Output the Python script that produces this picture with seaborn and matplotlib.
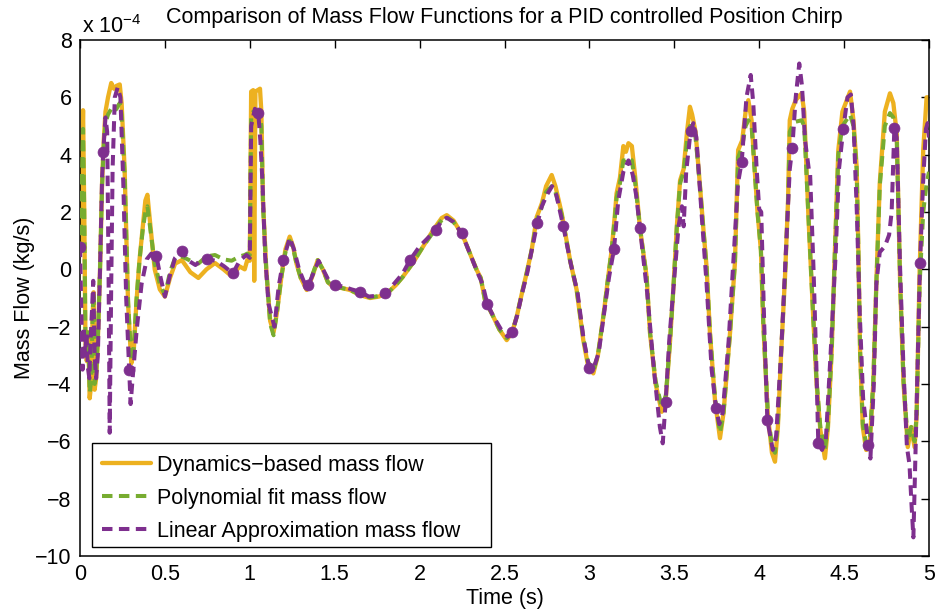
import numpy as np
import pandas as pd
import seaborn as sns
import matplotlib
matplotlib.use("Agg")
import matplotlib.pyplot as plt
from matplotlib.lines import Line2D
from matplotlib.patches import Rectangle

# ---------------- data (mass flow in units of 1e-4 kg/s) ----------------
dyn_t = [0.000, 0.010, 0.018, 0.025, 0.032, 0.040, 0.048, 0.057, 0.066, 0.075,
         0.080, 0.086, 0.095, 0.105, 0.118, 0.130, 0.140, 0.150, 0.165, 0.184,
         0.200, 0.215, 0.234, 0.245, 0.263, 0.283, 0.302, 0.315, 0.332, 0.350,
         0.370, 0.385, 0.397, 0.410, 0.440, 0.470, 0.500, 0.530, 0.560, 0.600,
         0.650, 0.697, 0.745, 0.795, 0.845, 0.893, 0.940, 0.970, 0.985, 1.000,
         1.008, 1.020, 1.026, 1.033, 1.060, 1.068, 1.078, 1.097, 1.120, 1.140,
         1.160, 1.186, 1.210, 1.235, 1.255, 1.275, 1.300, 1.335, 1.365, 1.400,
         1.430, 1.460, 1.490, 1.540, 1.590, 1.650, 1.708, 1.760, 1.810, 1.860,
         1.900, 1.960, 2.020, 2.080, 2.130, 2.160, 2.200, 2.257, 2.300, 2.336,
         2.360, 2.385, 2.434, 2.470, 2.513, 2.545, 2.572, 2.600, 2.630, 2.660,
         2.690, 2.720, 2.745, 2.778, 2.800, 2.837, 2.886, 2.925, 2.964, 2.990,
         3.023, 3.050, 3.082, 3.110, 3.131, 3.150, 3.160, 3.180, 3.200, 3.215,
         3.230, 3.250, 3.270, 3.298, 3.337, 3.357, 3.390, 3.426, 3.450, 3.475,
         3.494, 3.515, 3.534, 3.555, 3.575, 3.592, 3.605, 3.625, 3.650, 3.670,
         3.690, 3.710, 3.740, 3.769, 3.790, 3.828, 3.857, 3.876, 3.900, 3.920,
         3.936, 3.955, 3.970, 3.990, 4.010, 4.024, 4.050, 4.075, 4.093, 4.110,
         4.130, 4.152, 4.170, 4.180, 4.195, 4.215, 4.250, 4.265, 4.290, 4.318,
         4.338, 4.360, 4.387, 4.405, 4.427, 4.446, 4.466, 4.490, 4.535, 4.555,
         4.574, 4.584, 4.594, 4.610, 4.630, 4.650, 4.672, 4.690, 4.710, 4.740,
         4.770, 4.790, 4.810, 4.830, 4.850, 4.875, 4.895, 4.915, 4.927, 4.945,
         4.966, 4.986, 5.000]

dyn_y = [0.60, 3.20, 5.55, 2.00, -2.50, -3.20, -2.20, -4.50, -4.00, -1.50,
         -0.80, -4.20, -3.80, -2.50, 0.00, 3.00, 4.50, 5.50, 6.00, 6.50,
         6.30, 6.40, 6.45, 5.80, 3.46, -1.19, -3.28, -3.00, -1.19, 0.30,
         1.50, 2.40, 2.60, 1.80, 0.00, -0.70, -0.95, -0.30, 0.20, 0.32,
         -0.10, -0.30, 0.00, 0.22, 0.00, -0.24, 0.10, 0.00, 0.32, 0.30,
         6.20, 6.25, -0.40, 6.20, 6.30, 5.50, 2.30, 0.00, -1.80, -2.20,
         -1.50, -0.26, 0.70, 1.14, 0.80, 0.20, -0.30, -0.72, -0.30, 0.32,
         0.00, -0.45, -0.60, -0.65, -0.72, -0.90, -1.00, -0.95, -0.83, -0.55,
         -0.27, 0.22, 0.79, 1.37, 1.79, 1.89, 1.70, 1.14, 0.50, -0.02,
         -0.30, -1.07, -1.65, -2.10, -2.47, -2.20, -1.65, -0.90, -0.14, 0.67,
         1.83, 2.30, 2.90, 3.29, 2.90, 1.95, 0.32, -0.72, -2.47, -3.30,
         -3.63, -3.00, -1.65, -0.30, 0.67, 1.90, 2.65, 3.20, 4.30, 4.10,
         4.40, 4.30, 3.20, 1.43, -0.26, -2.23, -4.00, -4.97, -4.50, -2.50,
         -0.72, 1.50, 3.10, 3.50, 4.80, 5.67, 5.40, 4.80, 3.00, 1.50,
         0.09, -2.23, -4.60, -5.89, -5.00, -2.23, 0.22, 4.16, 4.50, 5.50,
         5.90, 5.20, 3.80, 2.00, 0.67, -1.88, -5.00, -6.40, -6.71, -5.50,
         -2.82, -0.26, 2.42, 5.20, 5.60, 5.90, 6.14, 5.50, 1.83, -1.65,
         -3.97, -5.60, -6.59, -5.50, -2.82, 0.67, 4.16, 5.50, 6.20, 5.20,
         3.58, 0.67, -2.82, -5.50, -6.30, -6.20, -3.97, -0.48, 3.00, 5.50,
         6.14, 5.80, 4.74, -0.48, -3.97, -6.20, -5.50, -6.20, -5.14, 0.00,
         4.16, 6.00, 6.00]

poly_t = dyn_t
poly_y = [0.60, 2.80, 4.90, 2.00, -2.40, -3.10, -2.20, -4.30, -3.90, -1.50,
          -0.80, -4.00, -3.70, -2.40, 0.00, 2.90, 4.30, 5.10, 5.40, 5.60,
          5.50, 5.60, 5.80, 5.40, 3.30, -1.10, -3.20, -2.90, -1.10, 0.30,
          1.40, 2.00, 2.20, 1.60, 0.20, -0.50, -0.90, -0.10, 0.40, 0.45,
          0.30, 0.20, 0.45, 0.50, 0.35, 0.30, 0.45, 0.50, 0.55, 0.50,
          5.30, 5.50, 5.50, 5.50, 5.40, 5.00, 2.20, 0.00, -1.90, -2.30,
          -1.50, -0.26, 0.60, 1.00, 0.75, 0.20, -0.30, -0.65, -0.25, 0.32,
          0.00, -0.45, -0.60, -0.65, -0.72, -0.88, -0.98, -0.93, -0.83, -0.55,
          -0.27, 0.22, 0.79, 1.30, 1.72, 1.82, 1.65, 1.14, 0.50, -0.02,
          -0.30, -1.07, -1.65, -2.10, -2.40, -2.20, -1.65, -0.90, -0.14, 0.67,
          1.70, 2.20, 2.70, 2.90, 2.70, 1.90, 0.32, -0.72, -2.40, -3.20,
          -3.55, -3.00, -1.65, -0.30, 0.67, 1.80, 2.50, 3.00, 3.80, 3.80,
          3.90, 3.80, 3.00, 1.43, -0.26, -2.20, -3.90, -4.80, -4.40, -2.50,
          -0.72, 1.50, 3.00, 3.40, 4.50, 5.00, 5.00, 4.60, 3.00, 1.50,
          0.09, -2.20, -4.50, -5.70, -5.00, -2.23, 0.22, 3.90, 4.30, 5.00,
          5.20, 5.00, 3.70, 2.00, 0.67, -1.88, -4.90, -6.20, -6.40, -5.40,
          -2.82, -0.26, 2.40, 4.80, 5.00, 5.15, 5.20, 5.00, 1.83, -1.65,
          -3.90, -5.50, -6.30, -5.40, -2.82, 0.67, 4.00, 5.00, 5.40, 5.00,
          3.50, 0.67, -2.80, -5.40, -6.10, -6.00, -3.90, -0.48, 2.90, 5.00,
          5.45, 5.30, 4.60, -0.48, -3.90, -6.00, -5.50, -6.00, -5.10, -0.50,
          2.00, 3.00, 3.40]

lin_t = [0.000, 0.008, 0.015, 0.022, 0.030, 0.038, 0.046, 0.055, 0.062, 0.070,
         0.078, 0.086, 0.095, 0.105, 0.118, 0.130, 0.137, 0.150, 0.160, 0.168,
         0.175, 0.183, 0.192, 0.205, 0.222, 0.238, 0.255, 0.272, 0.290, 0.298,
         0.310, 0.334, 0.363, 0.393, 0.420, 0.450, 0.475, 0.500, 0.530, 0.560,
         0.600, 0.640, 0.680, 0.710, 0.750, 0.800, 0.850, 0.900, 0.940, 0.980,
         1.000, 1.008, 1.030, 1.050, 1.062, 1.075, 1.090, 1.110, 1.145, 1.170,
         1.197, 1.235, 1.260, 1.290, 1.320, 1.345, 1.370, 1.405, 1.440, 1.470,
         1.500, 1.550, 1.600, 1.649, 1.700, 1.750, 1.796, 1.850, 1.900, 1.943,
         2.000, 2.050, 2.097, 2.130, 2.160, 2.200, 2.248, 2.300, 2.340, 2.370,
         2.399, 2.440, 2.480, 2.520, 2.546, 2.575, 2.605, 2.635, 2.665, 2.693,
         2.720, 2.750, 2.780, 2.805, 2.846, 2.890, 2.930, 2.965, 2.999, 3.025,
         3.055, 3.085, 3.115, 3.145, 3.170, 3.200, 3.230, 3.255, 3.275, 3.298,
         3.340, 3.380, 3.415, 3.432, 3.449, 3.470, 3.494, 3.525, 3.545, 3.555,
         3.570, 3.596, 3.612, 3.630, 3.660, 3.690, 3.720, 3.746, 3.765, 3.785,
         3.820, 3.850, 3.875, 3.897, 3.925, 3.950, 3.965, 3.985, 4.000, 4.012,
         4.030, 4.048, 4.080, 4.100, 4.130, 4.160, 4.180, 4.195, 4.215, 4.236,
         4.252, 4.270, 4.292, 4.300, 4.320, 4.335, 4.348, 4.370, 4.392, 4.420,
         4.450, 4.470, 4.495, 4.520, 4.540, 4.556, 4.575, 4.592, 4.612, 4.643,
         4.655, 4.675, 4.690, 4.710, 4.740, 4.765, 4.780, 4.796, 4.810, 4.830,
         4.850, 4.870, 4.885, 4.897, 4.908, 4.918, 4.930, 4.947, 4.965, 4.982,
         4.992, 5.000]

lin_y = [0.79, -1.50, -3.50, -2.00, -3.00, -2.20, -3.40, -3.80, -2.50, -1.50,
         -0.40, -3.00, -3.80, -3.00, 0.00, 3.20, 4.10, 5.30, 4.80, 0.00,
         -5.70, -1.00, 3.50, 6.00, 6.35, 6.00, 3.00, -1.00, -3.50, -4.70,
         -3.80, -2.10, -0.50, 0.35, 0.55, 0.46, -0.30, -0.95, -0.20, 0.40,
         0.65, 0.30, 0.15, 0.30, 0.35, 0.30, 0.10, -0.14, 0.30, 0.50,
         0.40, 5.00, 5.60, 5.44, 4.50, 3.00, 0.50, -1.20, -2.00, -0.60,
         0.32, 1.10, 0.70, 0.00, -0.45, -0.55, -0.20, 0.30, -0.10, -0.45,
         -0.55, -0.60, -0.70, -0.78, -0.95, -0.92, -0.84, -0.50, -0.15, 0.32,
         0.80, 1.10, 1.37, 1.70, 1.80, 1.65, 1.26, 0.50, -0.10, -0.50,
         -1.22, -1.70, -2.10, -2.35, -2.18, -1.60, -0.80, -0.10, 0.80, 1.60,
         2.20, 2.60, 2.90, 2.60, 1.51, 0.20, -0.80, -2.40, -3.45, -3.45,
         -2.90, -1.60, -0.30, 0.71, 2.40, 3.40, 3.80, 3.30, 2.60, 1.43,
         -0.80, -3.50, -5.50, -6.07, -4.62, -2.50, -0.72, 1.50, 2.20, 1.50,
         3.40, 4.82, 5.10, 4.60, 2.00, -0.50, -3.50, -4.85, -5.40, -5.00,
         -2.50, 0.50, 3.00, 3.75, 6.00, 6.78, 5.80, 3.50, 2.10, 2.00,
         -2.00, -5.26, -6.30, -5.80, -2.80, 1.00, 3.50, 4.24, 6.00, 7.18,
         6.40, 4.50, 3.50, 3.30, 0.00, -3.00, -6.07, -6.30, -6.00, -3.00,
         0.50, 3.50, 4.89, 6.00, 6.10, 5.00, 2.00, -1.50, -4.50, -6.13,
         -6.60, -4.00, -0.50, 0.60, 0.80, 1.20, 2.00, 4.94, 4.60, 0.00,
         -3.50, -6.20, -6.80, -8.20, -9.35, -7.00, -4.00, 0.21, 3.00, 4.90,
         5.10, 4.60]

mark_t = [0.000, 0.137, 0.290, 0.450, 0.600, 0.750, 0.900, 1.050, 1.197, 1.345,
          1.500, 1.649, 1.796, 1.943, 2.097, 2.248, 2.399, 2.546, 2.693, 2.846,
          2.999, 3.145, 3.298, 3.449, 3.596, 3.746, 3.897, 4.048, 4.195, 4.348,
          4.495, 4.643, 4.796, 4.947]
mark_y = [0.79, 4.10, -3.50, 0.46, 0.65, 0.35, -0.14, 5.44, 0.32, -0.55,
          -0.55, -0.78, -0.84, 0.32, 1.37, 1.26, -1.22, -2.18, 1.60, 1.51,
          -3.45, 0.71, 1.43, -4.62, 4.82, -4.85, 3.75, -5.26, 4.24, -6.07,
          4.89, -6.13, 4.94, 0.21]

series_labels = ["Dynamics\u2212based mass flow", "Polynomial fit mass flow",
                 "Linear Approximation mass flow"]
x_ticks = [0, 0.5, 1, 1.5, 2, 2.5, 3, 3.5, 4, 4.5, 5]
x_tick_labels = ["0", "0.5", "1", "1.5", "2", "2.5", "3", "3.5", "4", "4.5", "5"]
y_ticks = [-10, -8, -6, -4, -2, 0, 2, 4, 6, 8]

# ---------------- style ----------------
sns.set_theme(style="white")
plt.rcParams["font.family"] = ["Liberation Sans", "DejaVu Sans"]
plt.rcParams["mathtext.fontset"] = "custom"
plt.rcParams["mathtext.rm"] = "Liberation Sans"
plt.rcParams["mathtext.it"] = "Liberation Sans"
plt.rcParams["axes.unicode_minus"] = True
plt.rcParams["text.color"] = "black"
plt.rcParams["axes.labelcolor"] = "black"

c_dyn = "#EDB120"
c_poly = "#77AC30"
c_lin = "#7E2F8E"
FS = 15.5

fig = plt.figure(figsize=(9.38, 6.11), dpi=100)
ax = fig.add_axes([80 / 938, 55 / 611, 849 / 938, 516 / 611])

df_dyn = pd.DataFrame({"t": dyn_t, "m": dyn_y})
df_poly = pd.DataFrame({"t": poly_t, "m": poly_y})
df_lin = pd.DataFrame({"t": lin_t, "m": lin_y})
df_mk = pd.DataFrame({"t": mark_t, "m": mark_y})

sns.lineplot(data=df_dyn, x="t", y="m", ax=ax, color=c_dyn, lw=3.1,
             estimator=None, sort=False, zorder=2)
sns.lineplot(data=df_poly, x="t", y="m", ax=ax, color=c_poly, lw=2.9,
             estimator=None, sort=False, zorder=3)
ax.get_lines()[-1].set_dashes((2.6, 1.6))
sns.lineplot(data=df_lin, x="t", y="m", ax=ax, color=c_lin, lw=2.9,
             estimator=None, sort=False, zorder=4)
ax.get_lines()[-1].set_dashes((2.6, 1.6))
sns.scatterplot(data=df_mk, x="t", y="m", ax=ax, color=c_lin, s=62,
                edgecolor=c_lin, linewidth=0.5, zorder=5)

ax.set_xlim(0, 5)
ax.set_ylim(-10, 8)
ax.set_xticks(x_ticks, x_tick_labels)
ax.set_yticks(y_ticks)
ax.tick_params(direction="in", top=True, right=True, length=6, width=1,
               labelsize=FS, colors="black", pad=6)
for s in ax.spines.values():
    s.set_color("black")
    s.set_linewidth(1.1)

ax.set_xlabel("Time (s)", fontsize=FS, labelpad=2, color="black")
ax.set_ylabel("Mass Flow (kg/s)", fontsize=FS, labelpad=0, color="black")
ax.set_title("Comparison of Mass Flow Functions for a PID controlled Position Chirp",
             fontsize=FS, pad=12, color="black")
ax.text(0.002, 1.013, r"x 10$^{\mathregular{-4}}$", transform=ax.transAxes,
        fontsize=FS, ha="left", va="baseline", color="black")

# legend box (MATLAB-style, extra room on the right)
ax.add_patch(Rectangle((12 / 849, 9 / 516), 399 / 849, 104 / 516,
                       transform=ax.transAxes, facecolor="white",
                       edgecolor="black", lw=1.0, zorder=6))
handles = [Line2D([], [], color=c_dyn, lw=3.1),
           Line2D([], [], color=c_poly, lw=2.9, dashes=(2.6, 1.6)),
           Line2D([], [], color=c_lin, lw=2.9, dashes=(2.6, 1.6))]
leg = ax.legend(handles, series_labels, loc="upper left",
                bbox_to_anchor=(21.5 / 849, 101 / 516), borderaxespad=0,
                fontsize=FS, frameon=False, handlelength=2.28,
                handletextpad=0.3, labelspacing=0.55, borderpad=0,
                labelcolor="black")
leg.set_zorder(7)

fig.savefig("out.png", dpi=100)
